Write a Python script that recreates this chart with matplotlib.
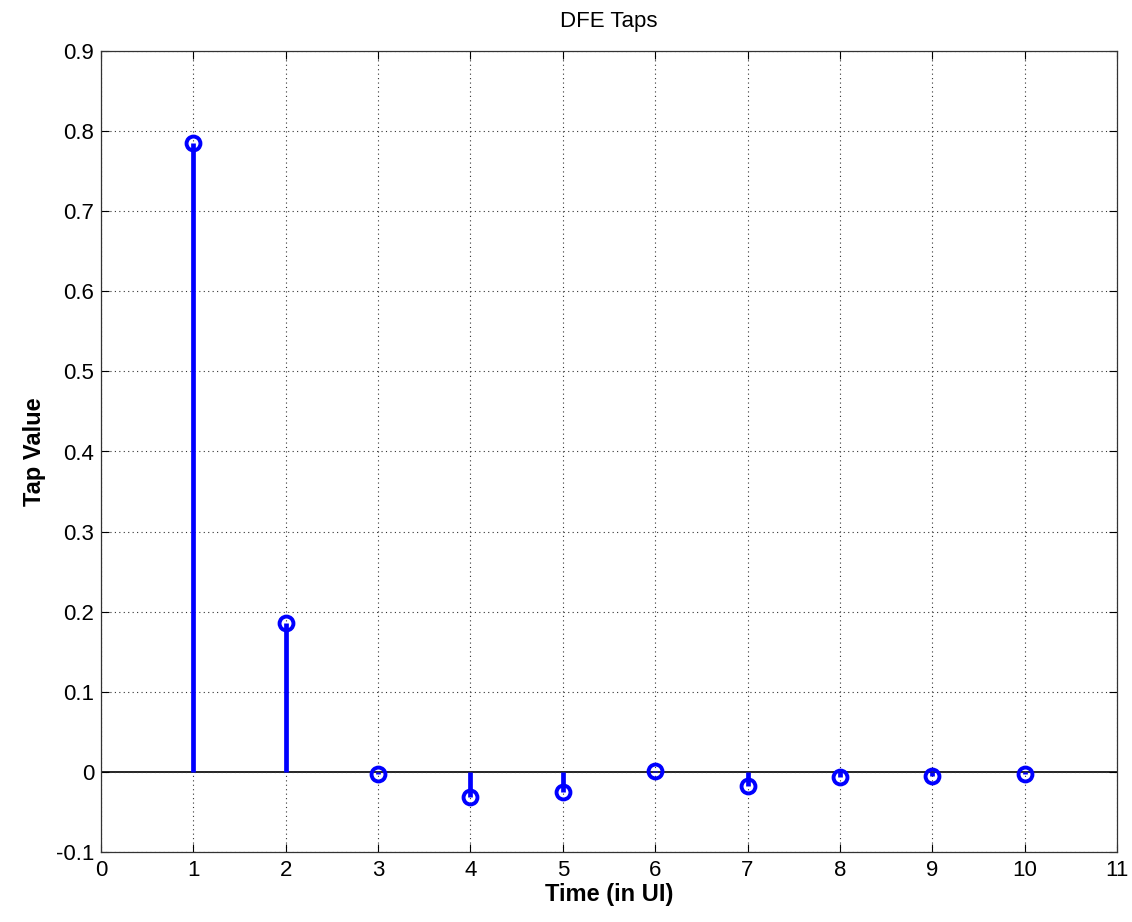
import matplotlib
matplotlib.use("Agg")
import matplotlib.pyplot as plt
import numpy as np

taps = [1, 2, 3, 4, 5, 6, 7, 8, 9, 10]
tap_values = [0.785, 0.1855, -0.003, -0.031, -0.025, 0.001, -0.0176, -0.0067, -0.0047, -0.0026]
xticks = list(range(0, 12))
yticks = [-0.1, 0, 0.1, 0.2, 0.3, 0.4, 0.5, 0.6, 0.7, 0.8, 0.9]
ytick_labels = ["-0.1", "0", "0.1", "0.2", "0.3", "0.4", "0.5", "0.6", "0.7", "0.8", "0.9"]

plt.rcParams['font.family'] = ['Liberation Sans', 'DejaVu Sans']

fig = plt.figure(figsize=(11.32, 9.22), dpi=100)
ax = fig.add_axes([101/1132, 70/922, (1117-101)/1132, (852-51)/922])

ml, sl, bl = ax.stem(taps, tap_values, linefmt='-', markerfmt='o', basefmt='-')
plt.setp(sl, color='#0000ff', linewidth=3.4)
plt.setp(ml, markerfacecolor='none', markeredgecolor='#0000ff', markersize=10, markeredgewidth=2.8, zorder=4)
bl.set_visible(False)
ax.axhline(0, color='black', linewidth=1.2, zorder=1)

ax.set_xlim(0, 11)
ax.set_ylim(-0.1, 0.9)
ax.set_xticks(xticks)
ax.set_yticks(yticks)
ax.set_yticklabels(ytick_labels)
ax.tick_params(direction='in', top=True, right=True, labelsize=16, length=6, width=0.8)
ax.tick_params(axis='x', pad=6)
ax.tick_params(axis='y', pad=5)
ax.grid(True, linestyle=(0, (1, 3)), color='#333333', linewidth=0.8)
for s in ax.spines.values():
    s.set_linewidth(0.9)
    s.set_color('#333333')

ax.set_title("DFE Taps", fontsize=16, pad=17)
ax.set_xlabel("Time (in UI)", fontsize=17, fontweight='bold', labelpad=1)
ax.set_ylabel("Tap Value", fontsize=17, fontweight='bold', labelpad=7)

fig.savefig("out.png", dpi=100)
